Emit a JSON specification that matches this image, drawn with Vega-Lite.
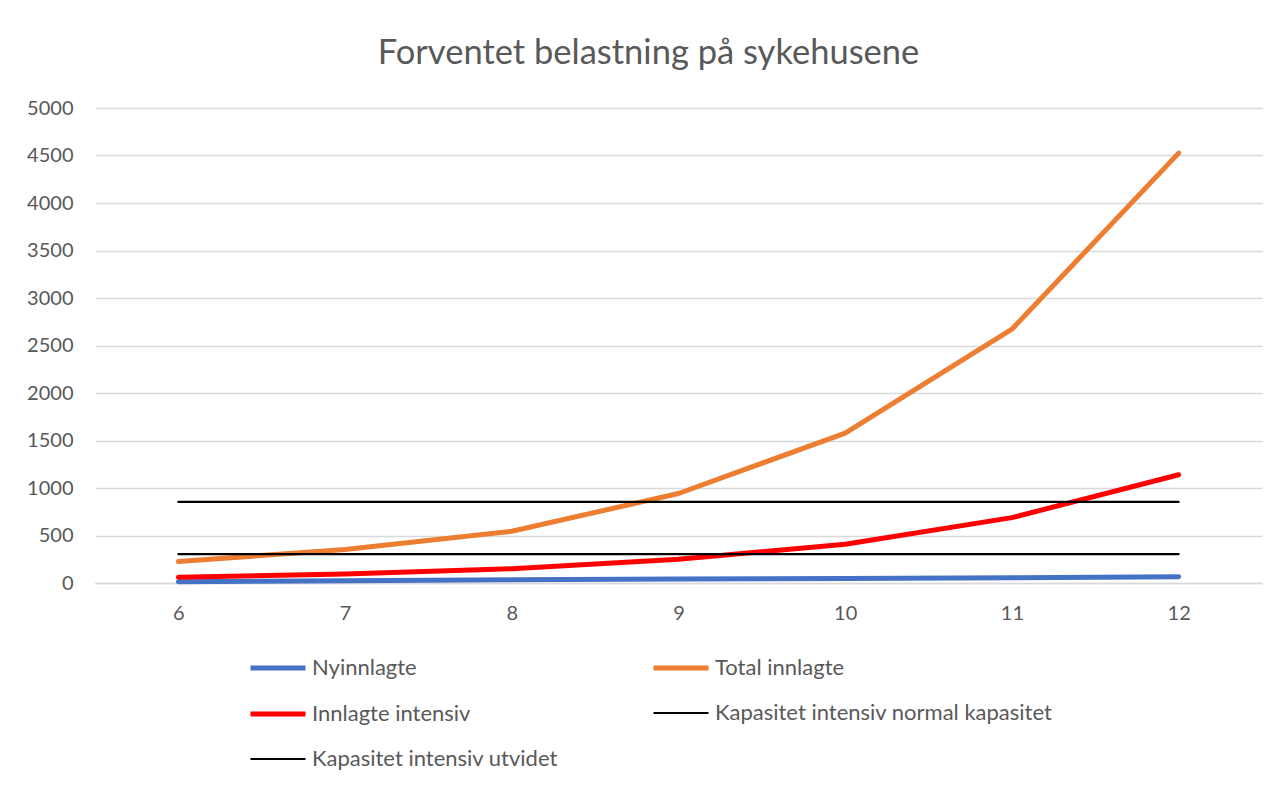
{
  "$schema": "https://vega.github.io/schema/vega-lite/v6.json",
  "autosize": {"type": "none"},
  "padding": {"left": 95, "top": 108, "right": 23, "bottom": 202},
  "width": 1167,
  "height": 475,
  "background": "white",
  "config": {
    "font": "Lato",
    "view": {"stroke": null},
    "legend": {"rowPadding": 5, "columnPadding": 85}
  },
  "title": {
    "text": "Forventet belastning på sykehusene",
    "fontSize": 34.5,
    "fontWeight": "normal",
    "color": "#595959",
    "anchor": "middle",
    "frame": "group",
    "dx": -30,
    "dy": 43,
    "baseline": "alphabetic",
    "offset": 43
  },
  "data": {
    "values": [
      {"uke": 6, "serie": "Nyinnlagte", "verdi": 14},
      {"uke": 7, "serie": "Nyinnlagte", "verdi": 24},
      {"uke": 8, "serie": "Nyinnlagte", "verdi": 33},
      {"uke": 9, "serie": "Nyinnlagte", "verdi": 41},
      {"uke": 10, "serie": "Nyinnlagte", "verdi": 48},
      {"uke": 11, "serie": "Nyinnlagte", "verdi": 55},
      {"uke": 12, "serie": "Nyinnlagte", "verdi": 66},
      {"uke": 6, "serie": "Total innlagte", "verdi": 226},
      {"uke": 7, "serie": "Total innlagte", "verdi": 352},
      {"uke": 8, "serie": "Total innlagte", "verdi": 545},
      {"uke": 9, "serie": "Total innlagte", "verdi": 942},
      {"uke": 10, "serie": "Total innlagte", "verdi": 1578},
      {"uke": 11, "serie": "Total innlagte", "verdi": 2672},
      {"uke": 12, "serie": "Total innlagte", "verdi": 4525},
      {"uke": 6, "serie": "Innlagte intensiv", "verdi": 60},
      {"uke": 7, "serie": "Innlagte intensiv", "verdi": 95},
      {"uke": 8, "serie": "Innlagte intensiv", "verdi": 150},
      {"uke": 9, "serie": "Innlagte intensiv", "verdi": 250},
      {"uke": 10, "serie": "Innlagte intensiv", "verdi": 407},
      {"uke": 11, "serie": "Innlagte intensiv", "verdi": 688},
      {"uke": 12, "serie": "Innlagte intensiv", "verdi": 1139},
      {"uke": 6, "serie": "Kapasitet intensiv normal kapasitet", "verdi": 305},
      {"uke": 7, "serie": "Kapasitet intensiv normal kapasitet", "verdi": 305},
      {"uke": 8, "serie": "Kapasitet intensiv normal kapasitet", "verdi": 305},
      {"uke": 9, "serie": "Kapasitet intensiv normal kapasitet", "verdi": 305},
      {"uke": 10, "serie": "Kapasitet intensiv normal kapasitet", "verdi": 305},
      {"uke": 11, "serie": "Kapasitet intensiv normal kapasitet", "verdi": 305},
      {"uke": 12, "serie": "Kapasitet intensiv normal kapasitet", "verdi": 305},
      {"uke": 6, "serie": "Kapasitet intensiv utvidet", "verdi": 853},
      {"uke": 7, "serie": "Kapasitet intensiv utvidet", "verdi": 853},
      {"uke": 8, "serie": "Kapasitet intensiv utvidet", "verdi": 853},
      {"uke": 9, "serie": "Kapasitet intensiv utvidet", "verdi": 853},
      {"uke": 10, "serie": "Kapasitet intensiv utvidet", "verdi": 853},
      {"uke": 11, "serie": "Kapasitet intensiv utvidet", "verdi": 853},
      {"uke": 12, "serie": "Kapasitet intensiv utvidet", "verdi": 853}
    ]
  },
  "mark": {"type": "line", "strokeCap": "round", "strokeJoin": "round"},
  "encoding": {
    "x": {
      "field": "uke",
      "type": "ordinal",
      "scale": {"type": "point", "padding": 0.5},
      "axis": {
        "title": null,
        "labelAngle": 0,
        "labelFontSize": 20,
        "labelColor": "#595959",
        "labelPadding": 20,
        "ticks": false,
        "domainColor": "#D9D9D9",
        "domainWidth": 1.3,
        "grid": false
      }
    },
    "y": {
      "field": "verdi",
      "type": "quantitative",
      "scale": {"domain": [0, 5000], "nice": false},
      "axis": {
        "title": null,
        "values": [0, 500, 1000, 1500, 2000, 2500, 3000, 3500, 4000, 4500, 5000],
        "format": "d",
        "labelFontSize": 20,
        "labelColor": "#595959",
        "labelPadding": 22,
        "ticks": false,
        "domain": false,
        "gridColor": "#D9D9D9",
        "gridWidth": 1.3
      }
    },
    "color": {
      "field": "serie",
      "type": "nominal",
      "sort": null,
      "scale": {
        "domain": ["Nyinnlagte", "Innlagte intensiv", "Kapasitet intensiv utvidet", "Total innlagte", "Kapasitet intensiv normal kapasitet"],
        "range": ["#4472C4", "#FF0000", "#000000", "#ED7D31", "#000000"]
      },
      "legend": {
        "title": null,
        "orient": "none",
        "legendX": 153,
        "legendY": 530,
        "columns": 2,
        "symbolType": "stroke",
        "symbolSize": 3025,
        "labelFontSize": 22,
        "labelColor": "#595959",
        "labelOffset": 4,
        "labelLimit": 500
      }
    },
    "strokeWidth": {
      "field": "serie",
      "type": "nominal",
      "scale": {
        "type": "ordinal",
        "domain": ["Nyinnlagte", "Innlagte intensiv", "Kapasitet intensiv utvidet", "Total innlagte", "Kapasitet intensiv normal kapasitet"],
        "range": [5, 5, 2.2, 5, 2.2]
      },
      "legend": {
        "title": null,
        "orient": "none",
        "legendX": 153,
        "legendY": 530,
        "columns": 2,
        "symbolType": "stroke",
        "symbolSize": 3025,
        "labelFontSize": 22,
        "labelColor": "#595959",
        "labelOffset": 4,
        "labelLimit": 500
      }
    }
  }
}
